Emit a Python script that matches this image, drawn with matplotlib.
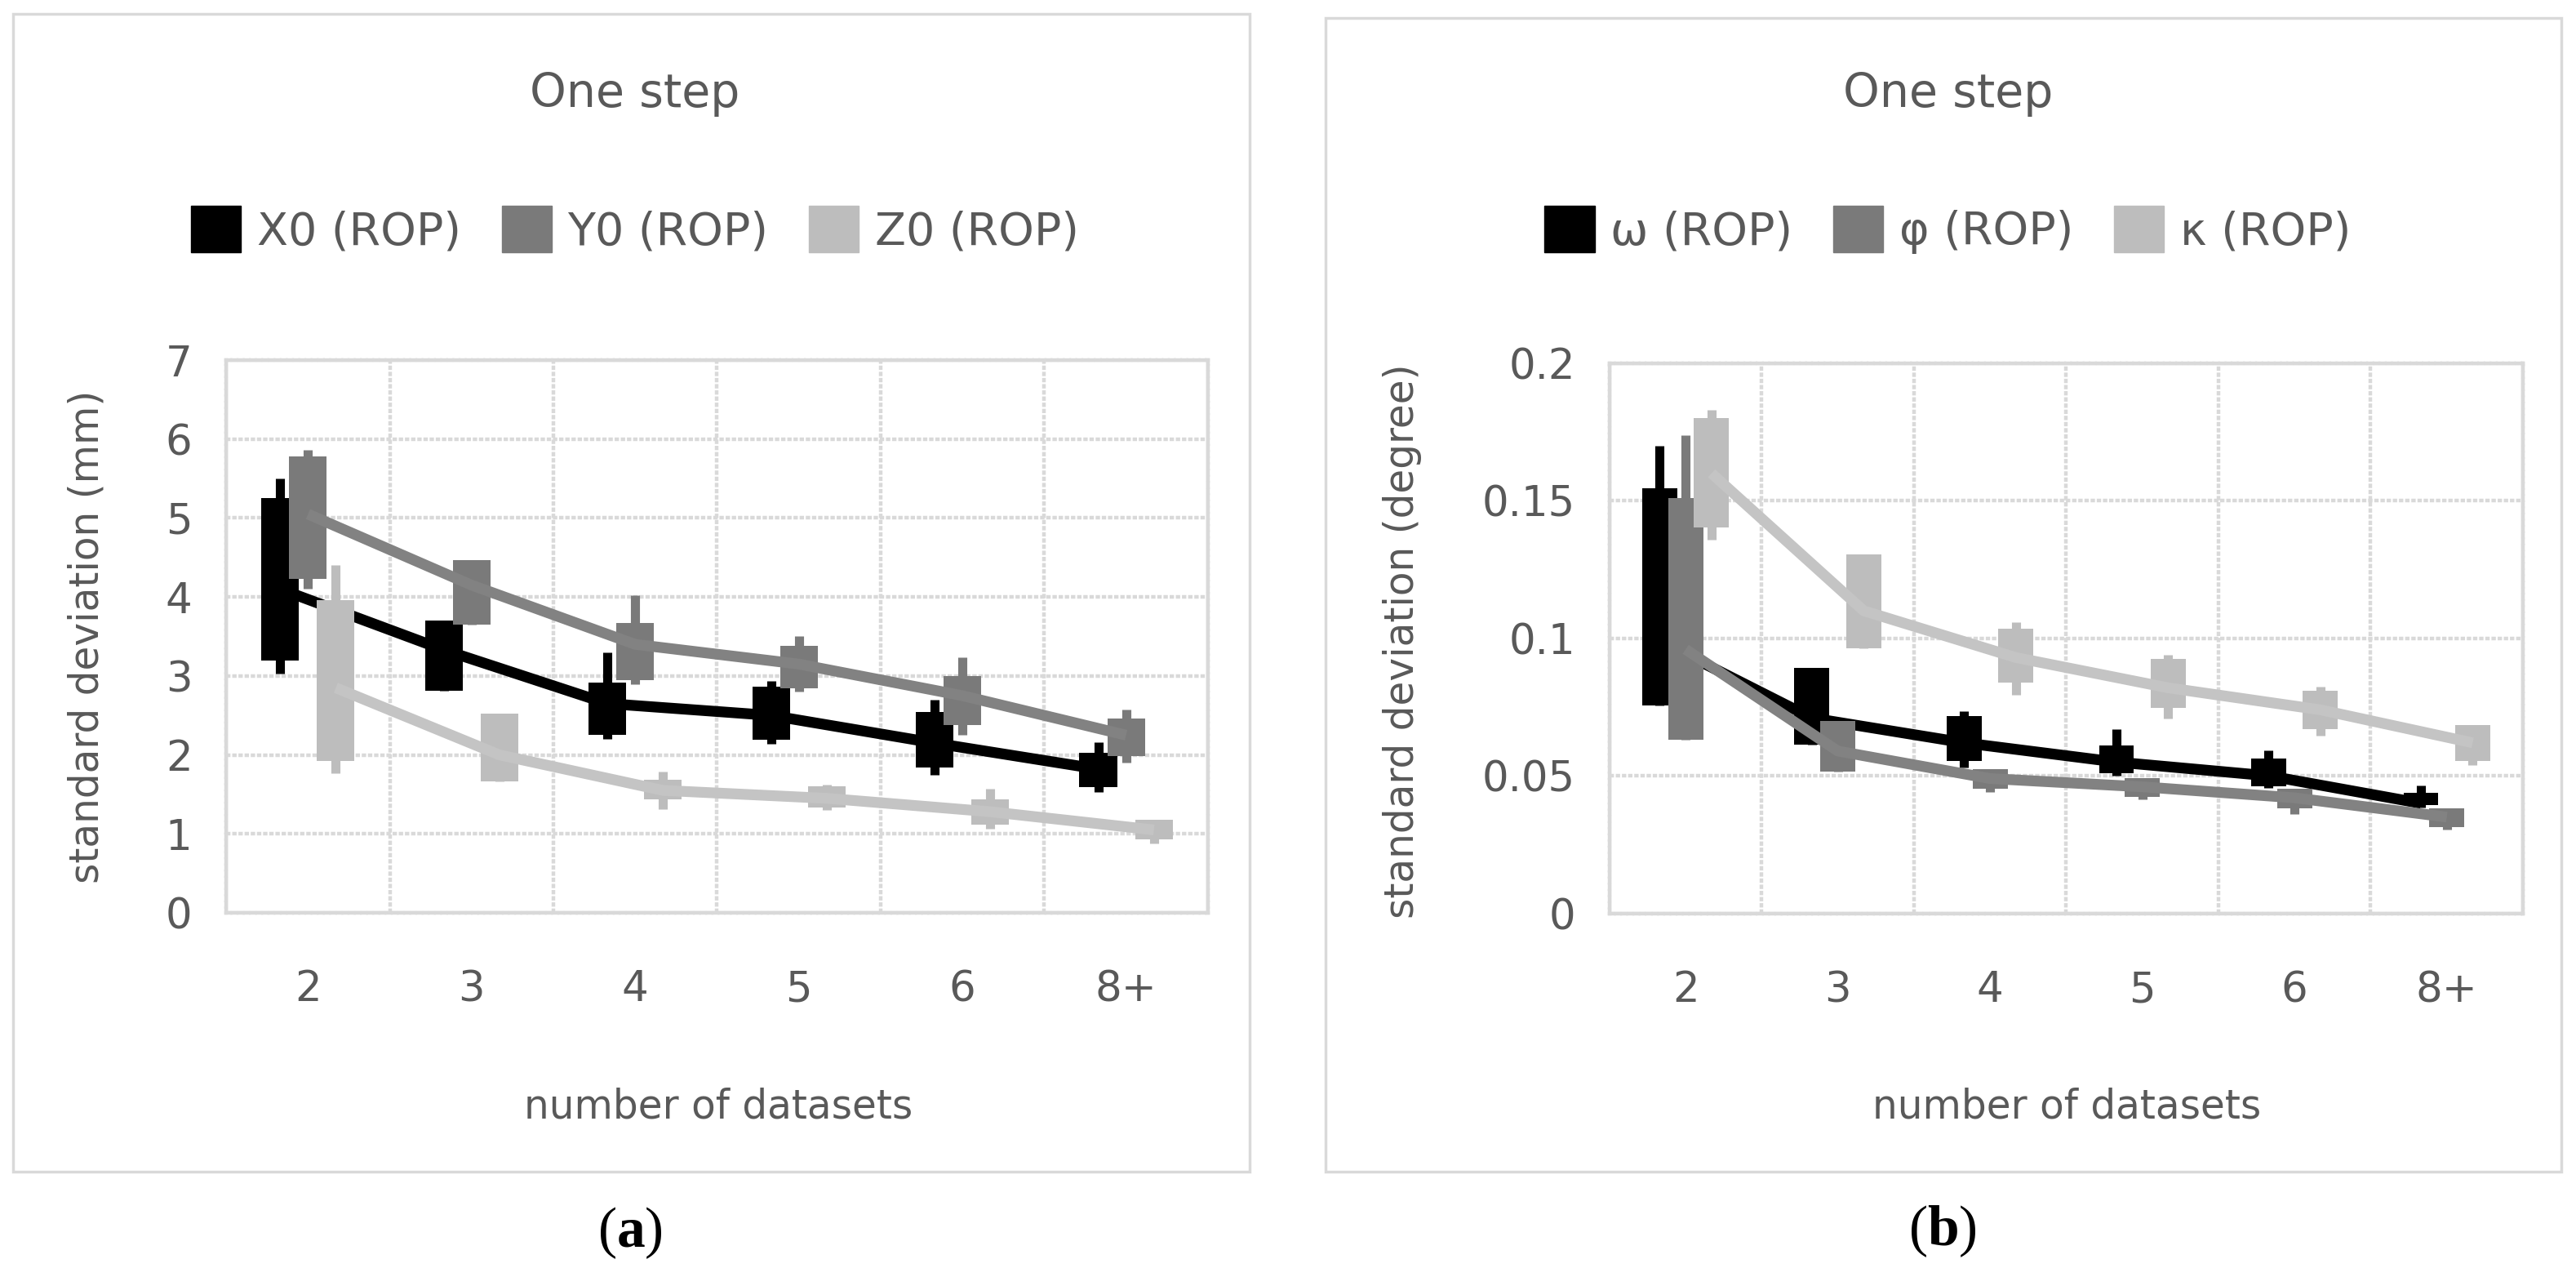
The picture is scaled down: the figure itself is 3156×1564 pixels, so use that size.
import matplotlib
matplotlib.use('Agg')
import matplotlib.pyplot as plt
from matplotlib.patches import Rectangle, Patch
import numpy as np

cats = ['2', '3', '4', '5', '6', '8+']

# panel (a): mean line, box range, whisker range
x0_mean = [4.1, 3.33, 2.65, 2.5, 2.15, 1.82]
x0_box_lo = [3.2, 2.81, 2.25, 2.19, 1.84, 1.59]
x0_box_hi = [5.25, 3.7, 2.92, 2.86, 2.54, 2.03]
x0_wlo = [3.03, 2.81, 2.2, 2.14, 1.75, 1.53]
x0_whi = [5.5, 3.7, 3.3, 2.94, 2.7, 2.16]

y0_mean = [5.05, 4.15, 3.4, 3.15, 2.75, 2.25]
y0_box_lo = [4.23, 3.65, 2.95, 2.84, 2.38, 1.98]
y0_box_hi = [5.78, 4.47, 3.67, 3.38, 3.0, 2.46]
y0_wlo = [4.1, 3.65, 2.9, 2.8, 2.25, 1.9]
y0_whi = [5.86, 4.47, 4.02, 3.51, 3.24, 2.57]

z0_mean = [2.85, 2.0, 1.55, 1.45, 1.28, 1.05]
z0_box_lo = [1.92, 1.66, 1.44, 1.33, 1.12, 0.93]
z0_box_hi = [3.96, 2.52, 1.68, 1.6, 1.44, 1.18]
z0_wlo = [1.77, 1.66, 1.31, 1.3, 1.06, 0.88]
z0_whi = [4.41, 2.52, 1.79, 1.62, 1.57, 1.18]

# panel (b)
w_mean = [0.099, 0.071, 0.062, 0.055, 0.05, 0.04]
w_box_lo = [0.0756, 0.0613, 0.0555, 0.0508, 0.0462, 0.0394]
w_box_hi = [0.1545, 0.0893, 0.0717, 0.0609, 0.0563, 0.0439]
w_wlo = [0.0756, 0.0613, 0.0531, 0.05, 0.0455, 0.0385]
w_whi = [0.17, 0.0893, 0.0736, 0.067, 0.0593, 0.0465]

p_mean = [0.096, 0.059, 0.049, 0.046, 0.042, 0.035]
p_box_lo = [0.0632, 0.0516, 0.0454, 0.0423, 0.0382, 0.0314]
p_box_hi = [0.151, 0.07, 0.0524, 0.0493, 0.0454, 0.0383]
p_wlo = [0.0632, 0.0516, 0.044, 0.0415, 0.036, 0.0305]
p_whi = [0.174, 0.07, 0.0524, 0.0493, 0.0454, 0.0383]

k_mean = [0.16, 0.11, 0.093, 0.082, 0.074, 0.062]
k_box_lo = [0.1404, 0.0963, 0.084, 0.0747, 0.067, 0.0555]
k_box_hi = [0.18, 0.1306, 0.1035, 0.0925, 0.0809, 0.0686]
k_wlo = [0.136, 0.0963, 0.0794, 0.0709, 0.0647, 0.054]
k_whi = [0.183, 0.1306, 0.106, 0.094, 0.0825, 0.0686]

offsets = [-0.17, 0.0, 0.17]
box_cols = ['#000000', '#7a7a7a', '#bdbdbd']
line_cols = ['#000000', '#828282', '#c4c4c4']
txt = '#595959'
grid_col = '#d9d9d9'

plt.rcParams['font.family'] = ['DejaVu Sans']
plt.rcParams['mathtext.fontset'] = 'custom'
plt.rcParams['mathtext.rm'] = 'Liberation Serif'
plt.rcParams['mathtext.bf'] = 'Liberation Serif:bold'

fig = plt.figure(figsize=(31.56, 15.64), dpi=100)


def panel(rect, series, names, ymax, ystep, yfmt):
    ax = fig.add_axes(rect)
    x = np.arange(len(cats))
    for i, (m, blo, bhi, wlo, whi) in enumerate(series):
        xs = x + offsets[i]
        ax.vlines(xs, wlo, whi, color=box_cols[i], lw=8, zorder=3 + i)
        ax.bar(xs, np.array(bhi) - np.array(blo), bottom=blo, width=0.23,
               color=box_cols[i], zorder=3 + i)
        ax.plot(xs, m, color=line_cols[i], lw=9.5, solid_capstyle='butt', zorder=3 + i)
    ax.set_xlim(-0.5, len(cats) - 0.5)
    ax.set_ylim(0, ymax)
    yt = np.arange(0, ymax + ystep / 2, ystep)
    ax.set_yticks(yt)
    ax.set_yticklabels([yfmt(v) for v in yt])
    ax.set_xticks(x)
    ax.set_xticklabels(cats)
    ax.set_xticks(np.arange(-0.5, len(cats)), minor=True)
    ax.grid(True, which='minor', axis='x', color=grid_col, lw=3.2, ls=(0, (1.2, 0.5)))
    ax.grid(True, which='major', axis='y', color=grid_col, lw=3.2, ls=(0, (1.2, 0.5)))
    ax.set_axisbelow(True)
    for s in ax.spines.values():
        s.set_color(grid_col)
        s.set_linewidth(3.2)
        s.set_linestyle((0, (1.2, 0.5)))
    ax.tick_params(which='both', length=0)
    ax.tick_params(axis='y', labelsize=37, colors=txt, pad=30)
    ax.tick_params(axis='x', labelsize=37, colors=txt, pad=50)
    handles = [Patch(color=box_cols[i], label=names[i]) for i in range(3)]
    return ax, handles


def fmt_a(v):
    return '%d' % v


def fmt_b(v):
    return '%g' % round(v, 2)


ax1, h1 = panel([0.0878, 0.2852, 0.3811, 0.4328],
                [(x0_mean, x0_box_lo, x0_box_hi, x0_wlo, x0_whi),
                 (y0_mean, y0_box_lo, y0_box_hi, y0_wlo, y0_whi),
                 (z0_mean, z0_box_lo, z0_box_hi, z0_wlo, z0_whi)],
                ['X0 (ROP)', 'Y0 (ROP)', 'Z0 (ROP)'], 7, 1, fmt_a)
ax2, h2 = panel([0.6248, 0.2848, 0.3546, 0.4307],
                [(w_mean, w_box_lo, w_box_hi, w_wlo, w_whi),
                 (p_mean, p_box_lo, p_box_hi, p_wlo, p_whi),
                 (k_mean, k_box_lo, k_box_hi, k_wlo, k_whi)],
                ['ω (ROP)', 'φ (ROP)', 'κ (ROP)'], 0.2, 0.05, fmt_b)

# frames around the two charts
for r in [(0.0051, 0.0825, 0.48, 0.9066), (0.5146, 0.0825, 0.4797, 0.9035)]:
    fig.add_artist(Rectangle((r[0], r[1]), r[2], r[3], transform=fig.transFigure,
                             fill=False, ec=grid_col, lw=2.5))

for cx, hs in [(0.2465, h1), (0.7561, h2)]:
    fig.text(cx, 0.926, 'One step', ha='center', va='center', fontsize=41, color=txt)
    fig.legend(handles=hs, loc='center', bbox_to_anchor=(cx, 0.82), ncol=3,
               frameon=False, fontsize=40, labelcolor=txt, handlelength=1.1,
               handleheight=1.2, handletextpad=0.35, columnspacing=0.9)

fig.text(0.2788, 0.1336, 'number of datasets', ha='center', va='center', fontsize=35, color=txt)
fig.text(0.8023, 0.1336, 'number of datasets', ha='center', va='center', fontsize=35, color=txt)
fig.text(0.0339, 0.5013, 'standard deviation (mm)', rotation=90, ha='center', va='center',
         fontsize=35, color=txt)
fig.text(0.5444, 0.498, 'standard deviation (degree)', rotation=90, ha='center', va='center',
         fontsize=35, color=txt)

fig.text(0.2446, 0.0345, r'$\mathrm{(}\mathbf{a}\mathrm{)}$', ha='center', va='center', fontsize=50)
fig.text(0.7541, 0.0358, r'$\mathrm{(}\mathbf{b}\mathrm{)}$', ha='center', va='center', fontsize=50)

fig.savefig('out.png', dpi=100)
